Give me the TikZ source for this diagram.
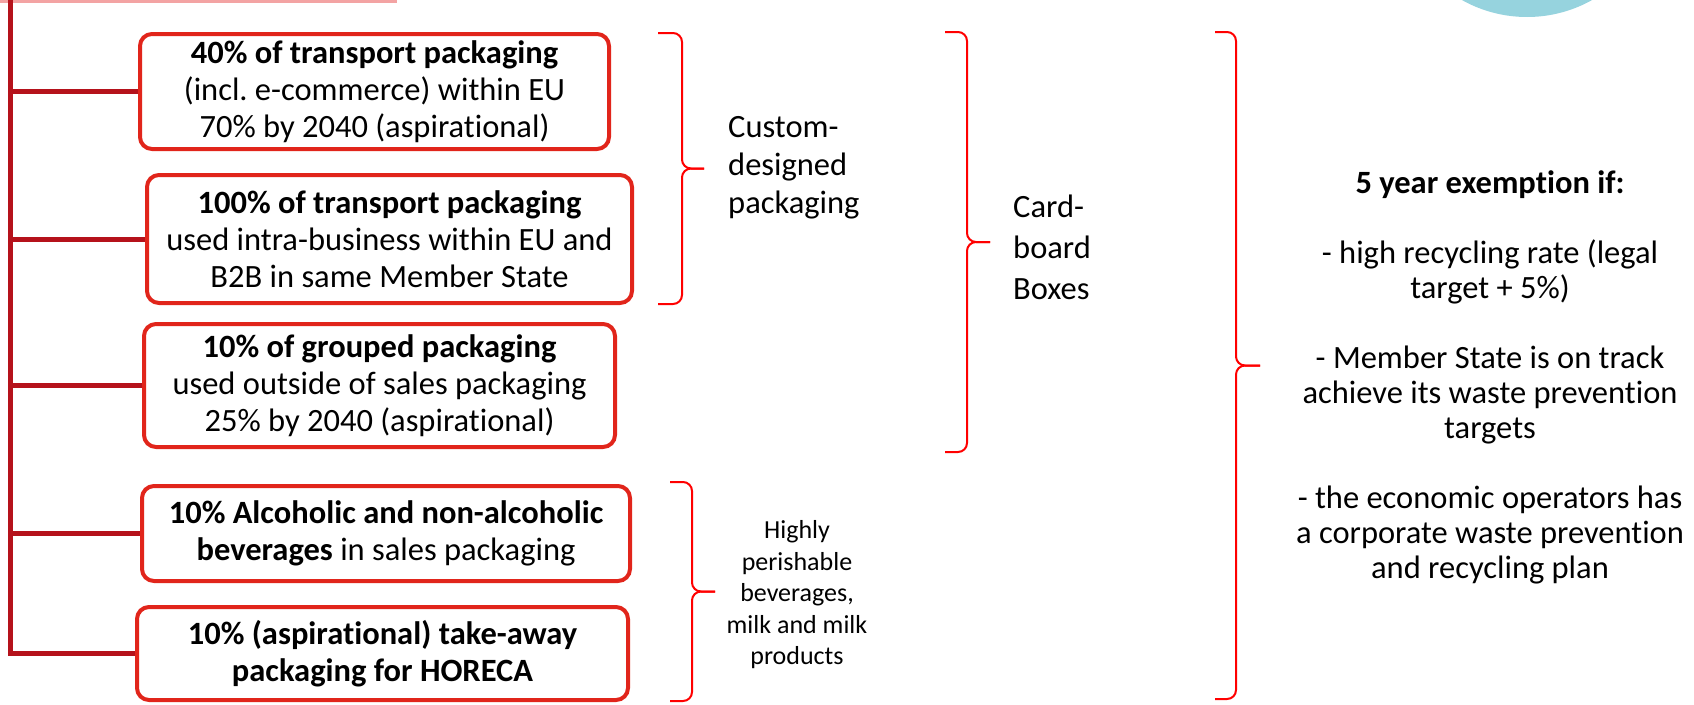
\documentclass[tikz,border=0pt]{standalone}
\usepackage{fontspec}
\setmainfont{Carlito}[Ligatures=NoCommon]
\usepackage{tikz}
\usetikzlibrary{positioning,calc}
\frenchspacing
\definecolor{boxred}{HTML}{E1251B}
\definecolor{trunkred}{HTML}{B5121B}
\definecolor{bracered}{HTML}{FF0000}
\definecolor{topline}{HTML}{F3A3A3}
\definecolor{tealdisc}{HTML}{96D3DE}
\tikzset{
  target/.style={
    rectangle,
    rounded corners=12pt,
    draw=boxred,
    line width=4pt,
    fill=white,
    align=center,
    inner sep=0pt,
    font=\fontsize{32.5}{37}\selectfont
  },
  branch/.style={draw=trunkred, line width=5pt},
  bracket/.style={draw=bracered, line width=2pt, rounded corners=9pt},
  grouplabel/.style={align=left, anchor=west, inner sep=0pt, font=\fontsize{32.5}{38}\selectfont},
  smalllabel/.style={align=center, inner sep=0pt, font=\fontsize{26}{31.5}\selectfont},
  note/.style={align=center, inner sep=0pt, font=\fontsize{32.5}{35}\selectfont}
}
% #1 end x, #2 spine x, #3 tip x, #4 top y, #5 bottom y
\newcommand{\groupbrace}[5]{%
  \draw[bracket] (#1,#4) -- (#2,#4) -- (#2,{(#4+#5)/2}) -- (#3,{(#4+#5)/2});
  \draw[bracket] (#1,#5) -- (#2,#5) -- (#2,{(#4+#5)/2}) -- (#3,{(#4+#5)/2});
}

\begin{document}
\begin{tikzpicture}[x=1pt, y=-1pt]
  \useasboundingbox (0,0) rectangle (1694,704);
  \fill[tealdisc] (1527,-116) circle (133pt);
  \fill[topline] (0,0) rectangle (397,2.5);

  \node[target, minimum width=469pt, minimum height=115pt] (transport) at (374.5,91.5)
    {\textbf{40\% of transport packaging}\\(incl. e-commerce) within EU\\70\% by 2040 (aspirational)};
  \node[target, minimum width=485pt, minimum height=128pt] (intrabiz) at (389.5,239)
    {\textbf{100\% of transport packaging}\\used intra-business within EU and\\B2B in same Member State};
  \node[target, minimum width=471pt, minimum height=123pt] (grouped) at (379.5,385.5)
    {\textbf{10\% of grouped packaging}\\used outside of sales packaging\\25\% by 2040 (aspirational)};
  \node[target, minimum width=488pt, minimum height=95pt] (beverages) at (386,533.5)
    {\textbf{10\% Alcoholic and non-alcoholic}\\\textbf{beverages} in sales packaging};
  \node[target, minimum width=491pt, minimum height=93pt] (horeca) at (382.5,653.5)
    {\textbf{10\% (aspirational) take-away}\\\textbf{packaging for HORECA}};

  \coordinate (trunktop) at (10,0);
  \draw[branch] (trunktop) |- (horeca.west);
  \draw[branch] (transport.west) -- (transport.west -| trunktop);
  \draw[branch] (intrabiz.west) -- (intrabiz.west -| trunktop);
  \draw[branch] (grouped.west) -- (grouped.west -| trunktop);
  \draw[branch] (beverages.west) -- (beverages.west -| trunktop);

  \groupbrace{658}{682}{704}{33}{304}
  \groupbrace{945}{967}{990}{32}{452}
  \groupbrace{670}{692}{715}{482}{701}
  \groupbrace{1215}{1236}{1260}{32}{699}

  \node[grouplabel] (customlbl) at (728,168) {Custom-\\designed\\packaging};
  \node[grouplabel, font=\fontsize{32.5}{41}\selectfont] (cardlbl) at (1013,247) {Card-\\board\\Boxes};
  \node[smalllabel] (perishlbl) at (797,595) {Highly\\perishable\\beverages,\\milk and milk\\products};
  \node[note] (exemption) at (1490,377)
    {\textbf{5 year exemption if:}\\[35pt]
     - high recycling rate (legal\\target + 5\%)\\[35pt]
     - Member State is on track\\achieve its waste prevention\\targets\\[35pt]
     - the economic operators has\\a corporate waste prevention\\and recycling plan};
\end{tikzpicture}
\end{document}
